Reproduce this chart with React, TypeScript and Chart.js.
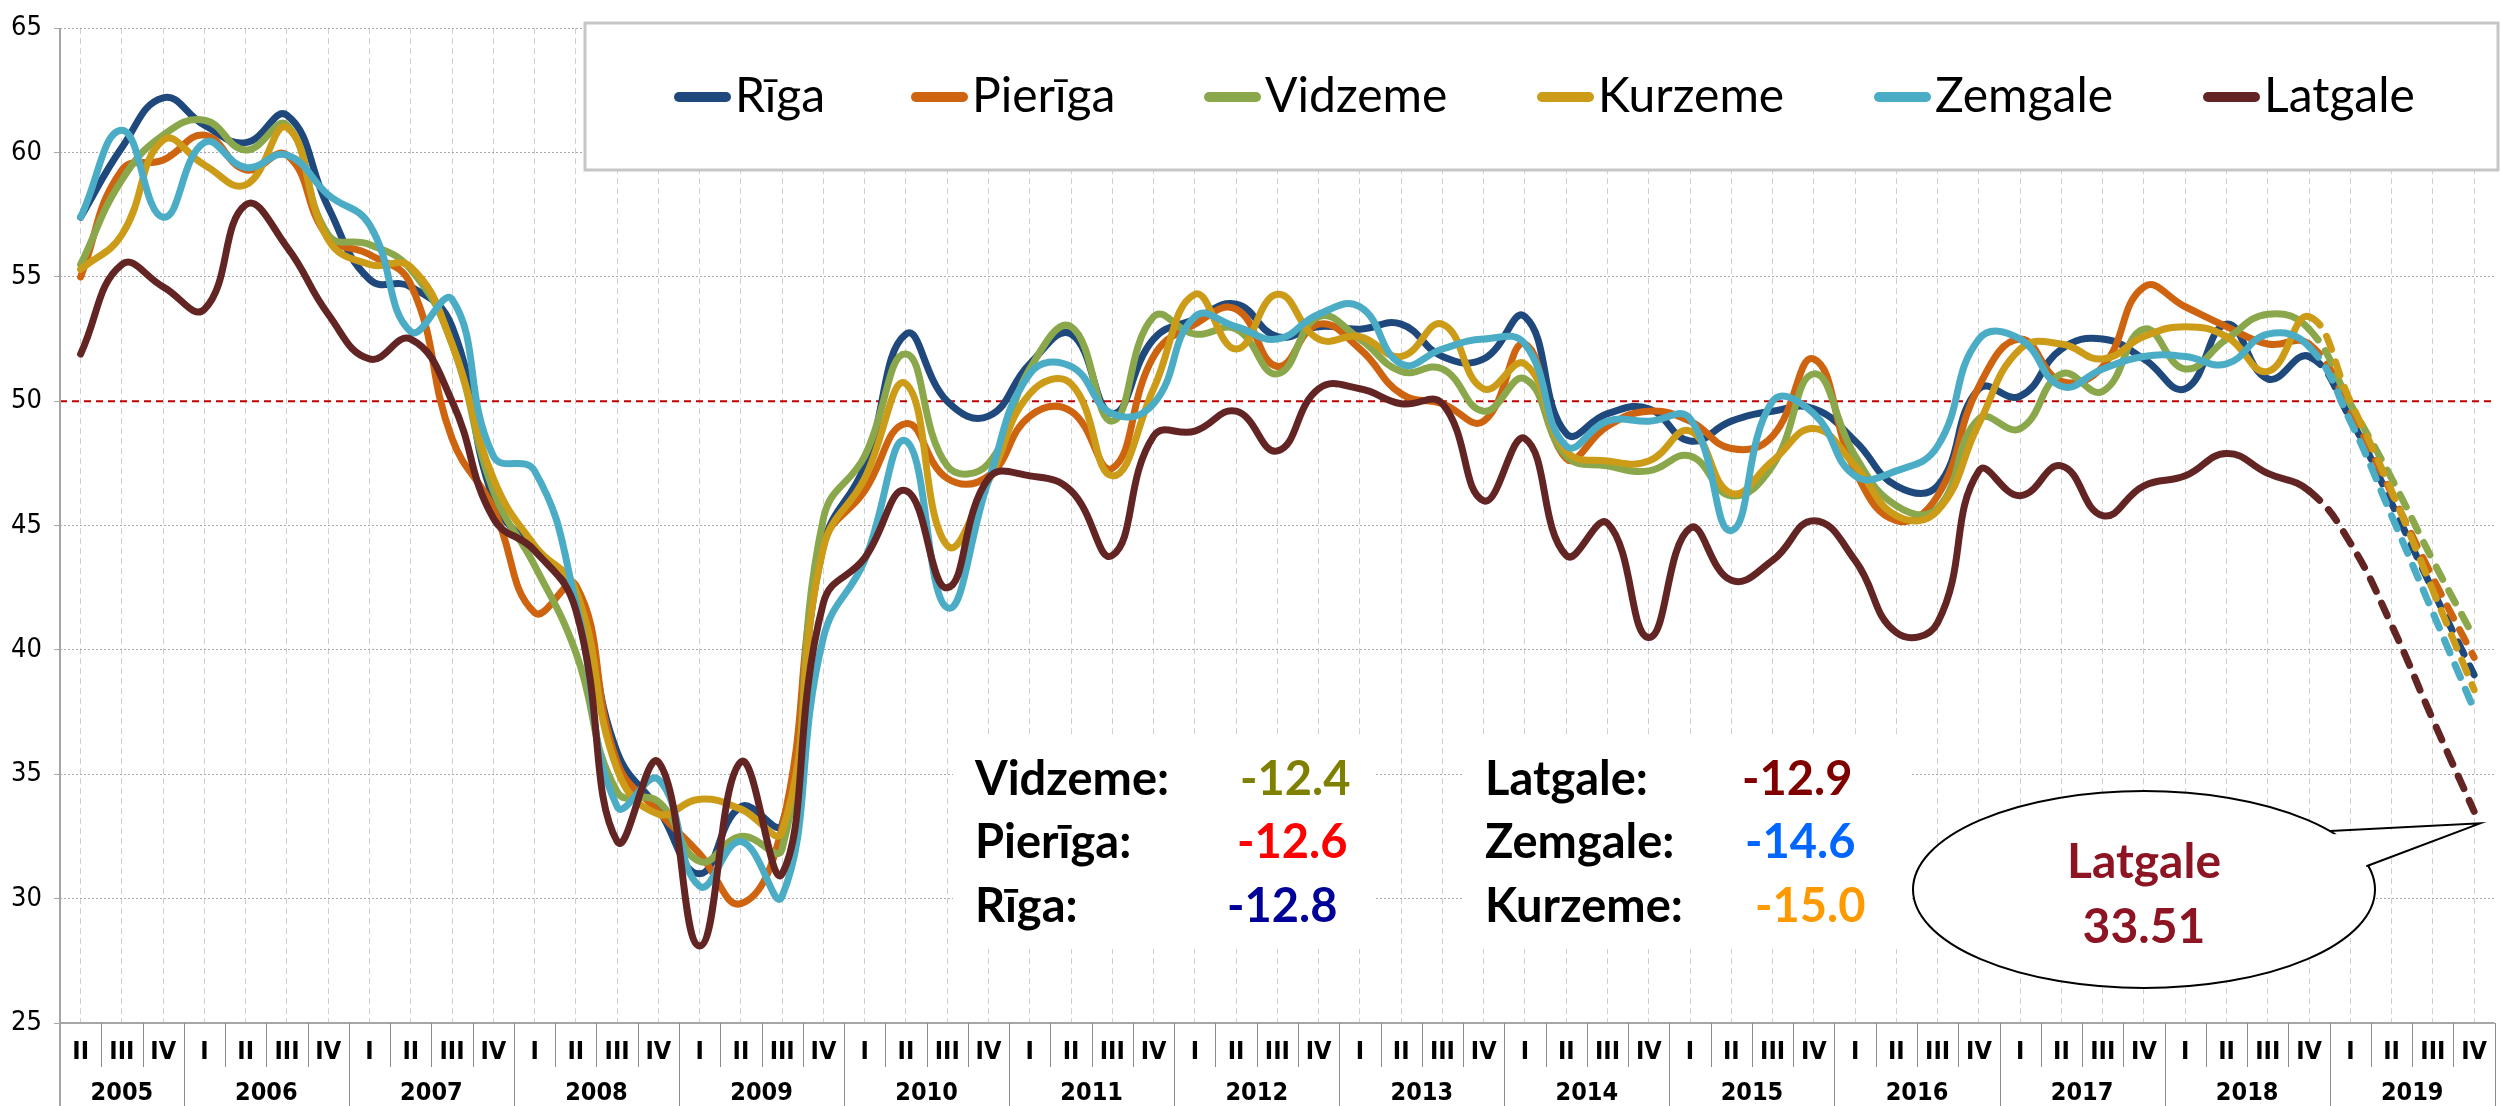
import React, { useEffect, useRef } from "react";
import { Chart, registerables } from "chart.js";

Chart.register(...registerables);

// ---------- DATA ----------
const quarterLabels = [
  "II", "III", "IV",
  "I", "II", "III", "IV", "I", "II", "III", "IV", "I", "II", "III", "IV",
  "I", "II", "III", "IV", "I", "II", "III", "IV", "I", "II", "III", "IV",
  "I", "II", "III", "IV", "I", "II", "III", "IV", "I", "II", "III", "IV",
  "I", "II", "III", "IV", "I", "II", "III", "IV", "I", "II", "III", "IV",
  "I", "II", "III", "IV", "I", "II", "III", "IV",
];
const yearLabels = ["2005", "2006", "2007", "2008", "2009", "2010", "2011", "2012", "2013", "2014", "2015", "2016", "2017", "2018", "2019"];
const yTicks = [25, 30, 35, 40, 45, 50, 55, 60, 65];

const seriesNames = ["Rīga", "Pierīga", "Vidzeme", "Kurzeme", "Zemgale", "Latgale"];

const riga = [57.4, 60.2, 62.2, 61.1, 60.4, 61.5, 57.8, 54.9, 54.6, 53.0, 46.1, 44.0, 42.3, 35.9, 33.6, 31.0, 33.7, 33.0, 44.2, 47.4, 52.7, 50.0, 49.4, 51.5, 52.7, 49.5, 52.5, 53.3, 53.9, 52.6, 53.0, 52.9, 53.1, 51.8, 51.7, 53.4, 48.7, 49.5, 49.7, 48.4, 49.2, 49.6, 49.7, 48.4, 46.6, 46.6, 50.5, 50.2, 52.1, 52.5, 51.7, 50.5, 53.1, 50.9, 51.8, 49.3, 45.9, 42.4, 39.0];
const pieriga = [55.0, 59.3, 59.7, 60.7, 59.3, 59.9, 56.6, 55.9, 54.7, 48.5, 45.7, 41.5, 42.6, 35.5, 33.5, 31.8, 29.8, 32.9, 44.2, 46.4, 49.1, 46.9, 47.0, 49.4, 49.6, 47.3, 51.8, 53.1, 53.7, 51.4, 53.1, 52.1, 50.3, 49.9, 49.2, 52.3, 47.7, 49.0, 49.6, 49.2, 48.1, 48.6, 51.7, 47.2, 45.2, 46.2, 50.6, 52.5, 50.8, 51.4, 54.6, 53.8, 53.0, 52.3, 52.3, 49.6, 46.3, 42.9, 39.7];
const vidzeme = [55.5, 58.9, 60.7, 61.3, 60.1, 61.1, 56.7, 56.3, 55.3, 52.3, 46.4, 43.4, 39.9, 34.3, 33.9, 31.5, 32.5, 32.0, 45.3, 47.8, 51.9, 47.4, 47.5, 51.3, 53.0, 49.2, 53.4, 52.7, 52.9, 51.1, 53.4, 52.5, 51.2, 51.3, 49.6, 50.9, 47.8, 47.4, 47.2, 47.8, 46.2, 47.4, 51.1, 47.8, 45.8, 45.7, 49.3, 48.9, 51.1, 50.4, 52.9, 51.3, 52.5, 53.5, 52.9, 49.9, 46.9, 43.6, 40.5];
const kurzeme = [55.3, 56.7, 60.5, 59.5, 58.7, 61.0, 56.5, 55.5, 55.4, 52.3, 46.9, 44.2, 42.4, 35.2, 33.4, 34.0, 33.6, 32.7, 44.1, 46.9, 50.7, 44.2, 46.8, 50.3, 50.7, 47.0, 50.5, 54.3, 52.1, 54.3, 52.5, 52.6, 51.8, 53.1, 50.5, 51.5, 48.0, 47.6, 47.6, 48.8, 46.3, 47.6, 48.9, 47.4, 45.4, 45.6, 49.1, 52.1, 52.3, 51.7, 52.6, 53.0, 52.6, 51.2, 53.4, 50.0, 46.4, 42.4, 38.4];
const zemgale = [57.4, 60.9, 57.4, 60.4, 59.4, 59.9, 58.3, 57.1, 52.8, 54.1, 47.8, 47.2, 41.9, 33.7, 34.8, 30.5, 32.3, 30.1, 40.5, 43.6, 48.4, 41.7, 46.8, 51.1, 51.4, 49.5, 49.9, 53.4, 53.0, 52.5, 53.5, 53.8, 51.5, 52.1, 52.5, 52.3, 48.2, 49.2, 49.2, 49.3, 44.8, 50.0, 49.5, 47.0, 47.2, 48.2, 52.5, 52.5, 50.6, 51.3, 51.8, 51.8, 51.5, 52.7, 52.2, 49.2, 45.4, 41.5, 37.6];
const latgale = [51.9, 55.5, 54.6, 53.7, 57.9, 56.2, 53.5, 51.7, 52.5, 50.0, 45.3, 44.0, 41.6, 32.3, 35.5, 28.1, 35.5, 31.0, 41.9, 43.7, 46.4, 42.5, 46.9, 47.0, 46.4, 43.8, 48.6, 48.8, 49.6, 48.0, 50.5, 50.5, 49.9, 49.9, 46.0, 48.5, 43.8, 45.1, 40.5, 44.9, 42.8, 43.6, 45.2, 43.6, 40.7, 41.1, 47.2, 46.2, 47.4, 45.4, 46.6, 47.0, 47.9, 47.1, 46.4, 44.3, 41.0, 37.2, 33.51];

const seriesColors = ["#1F497D", "#CF6410", "#8AA84B", "#CC9C18", "#4BACC6", "#632523"];

const forecastStartIndex = 54; // 2018 IV -> dashed afterwards

const changeLeftNames = ["Vidzeme:", "Pierīga:", "Rīga:"];
const changeLeftValues = ["-12.4", "-12.6", "-12.8"];
const changeLeftColors = ["#808000", "#FF0000", "#000099"];
const changeRightNames = ["Latgale:", "Zemgale:", "Kurzeme:"];
const changeRightValues = ["-12.9", "-14.6", "-15.0"];
const changeRightColors = ["#800000", "#0066FF", "#FF9900"];

const calloutTitle = "Latgale";
const calloutValue = "33.51";

// ---------- STYLE ----------
const NARROW = '"Liberation Sans Narrow", "Arial Narrow", "DejaVu Sans Condensed", sans-serif';
const LATO = 'Lato, "Open Sans", sans-serif';
const W = 2501;
const H = 1106;

const decorPlugin = {
  id: "decor",
  beforeDatasetsDraw(chart: any) {
    const { ctx, chartArea, scales } = chart;
    const y = scales.y;
    ctx.save();
    const y50 = y.getPixelForValue(50);
    ctx.strokeStyle = "#C00000";
    ctx.lineWidth = 2;
    ctx.setLineDash([7, 5]);
    ctx.beginPath();
    ctx.moveTo(chartArea.left, y50);
    ctx.lineTo(chartArea.right, y50);
    ctx.stroke();
    ctx.setLineDash([]);
    ctx.fillStyle = "#FFFFFF";
    ctx.fillRect(953, 735, 421, 214);
    ctx.fillRect(1463, 735, 449, 214);
    ctx.restore();
  },
  afterDatasetsDraw(chart: any) {
    const { ctx, scales } = chart;
    const x = scales.x;
    const y = scales.y;
    ctx.save();

    // ----- legend -----
    ctx.fillStyle = "#FFFFFF";
    ctx.fillRect(585, 23, 1913, 147);
    ctx.strokeStyle = "#C6C6C6";
    ctx.lineWidth = 3;
    ctx.strokeRect(585, 23, 1913, 147);
    const legendX = [675, 912, 1205, 1538, 1875, 2204];
    ctx.font = `48px ${LATO}`;
    ctx.textBaseline = "alphabetic";
    ctx.textAlign = "left";
    chart.data.datasets.forEach((ds: any, i: number) => {
      const lx = legendX[i];
      ctx.strokeStyle = ds.borderColor;
      ctx.lineWidth = 10;
      ctx.lineCap = "round";
      ctx.beginPath();
      ctx.moveTo(lx + 4, 97);
      ctx.lineTo(lx + 51, 97);
      ctx.stroke();
      ctx.fillStyle = "#000000";
      ctx.fillText(ds.label, lx + 60, 112);
    });

    // ----- change annotations -----
    ctx.font = `bold 47px ${LATO}`;
    const baselines = [795, 858, 922];
    const leftValX = [1240, 1237, 1227];
    const rightValX = [1742, 1745, 1755];
    for (let r = 0; r < 3; r++) {
      ctx.fillStyle = "#000000";
      ctx.fillText(changeLeftNames[r], 975, baselines[r]);
      ctx.fillText(changeRightNames[r], 1485, baselines[r]);
      ctx.fillStyle = changeLeftColors[r];
      ctx.fillText(changeLeftValues[r], leftValX[r], baselines[r]);
      ctx.fillStyle = changeRightColors[r];
      ctx.fillText(changeRightValues[r], rightValX[r], baselines[r]);
    }

    // ----- callout -----
    const cx = 2144, cy = 889.5, rx = 231, ry = 98.5;
    const lastIdx = latgale.length - 1;
    const tipX = x.getPixelForValue(lastIdx) + 6;
    const tipY = y.getPixelForValue(latgale[lastIdx]) + 12;
    const b1 = [2330, 831];
    const b2 = [2367, 866];
    ctx.fillStyle = "#FFFFFF";
    ctx.strokeStyle = "#000000";
    ctx.lineWidth = 2;
    ctx.beginPath();
    ctx.ellipse(cx, cy, rx, ry, 0, 0, Math.PI * 2);
    ctx.fill();
    ctx.stroke();
    ctx.beginPath();
    ctx.moveTo(b1[0] - 6, b1[1] + 4);
    ctx.lineTo(tipX, tipY);
    ctx.lineTo(b2[0] - 6, b2[1] + 2);
    ctx.closePath();
    ctx.fill();
    ctx.beginPath();
    ctx.moveTo(b1[0], b1[1]);
    ctx.lineTo(tipX, tipY);
    ctx.lineTo(b2[0], b2[1]);
    ctx.stroke();

    ctx.fillStyle = "#8C1423";
    ctx.font = `bold 48px ${LATO}`;
    ctx.textAlign = "center";
    ctx.fillText(calloutTitle, cx, 878);
    ctx.fillText(calloutValue, cx, 943);
    ctx.restore();
  },
  afterDraw(chart: any) {
    const { ctx, chartArea, scales } = chart;
    const x = scales.x;
    const n = quarterLabels.length;
    const step = x.getPixelForValue(1) - x.getPixelForValue(0);
    const boundary = (k: number) => x.getPixelForValue(k) - step / 2;
    const bottom = chartArea.bottom;
    ctx.save();
    ctx.strokeStyle = "#A6A6A6";
    ctx.lineWidth = 2;
    ctx.beginPath();
    ctx.moveTo(chartArea.left, chartArea.top);
    ctx.lineTo(chartArea.left, H);
    ctx.moveTo(chartArea.left, bottom);
    ctx.lineTo(chartArea.right, bottom);
    ctx.stroke();
    ctx.strokeStyle = "#8C8C8C";
    ctx.lineWidth = 1;
    ctx.beginPath();
    for (let k = 1; k <= n; k++) {
      const px = Math.round(boundary(k)) + 0.5;
      const isYear = (k - 3) % 4 === 0 || k === n;
      ctx.moveTo(px, bottom);
      ctx.lineTo(px, isYear ? H : bottom + 44);
    }
    ctx.stroke();
    ctx.fillStyle = "#000000";
    ctx.font = `bold 25px ${NARROW}`;
    ctx.textAlign = "center";
    ctx.textBaseline = "middle";
    yearLabels.forEach((yl, j) => {
      const first = j === 0 ? 0 : 3 + (j - 1) * 4;
      const last = j === 0 ? 2 : first + 3;
      const cxp = (x.getPixelForValue(first) + x.getPixelForValue(last)) / 2;
      ctx.fillText(yl, cxp, 1093);
    });
    ctx.restore();
  },
};

export default function App() {
  const canvasRef = useRef<HTMLCanvasElement | null>(null);

  useEffect(() => {
    if (!canvasRef.current) return;
    const allSeries = [riga, pieriga, vidzeme, kurzeme, zemgale, latgale];
    const datasets = allSeries.map((values, i) => ({
      label: seriesNames[i],
      data: values,
      borderColor: seriesColors[i],
      backgroundColor: seriesColors[i],
      borderWidth: 7,
      pointRadius: 0,
      pointHoverRadius: 0,
      tension: 0.45,
      fill: false,
      borderCapStyle: "round" as const,
      borderJoinStyle: "round" as const,
      order: allSeries.length - i,
      segment: {
        borderDash: (c: any) => (c.p0DataIndex >= forecastStartIndex ? [14, 13] : undefined),
      },
    }));

    const chart = new Chart(canvasRef.current, {
      type: "line",
      data: { labels: quarterLabels, datasets },
      options: {
        responsive: false,
        animation: false,
        devicePixelRatio: 1,
        layout: { padding: { top: 20, right: 1, left: 0, bottom: 0 } },
        plugins: {
          legend: { display: false },
          tooltip: { enabled: false },
        },
        scales: {
          x: {
            type: "category",
            offset: true,
            grid: {
              offset: false,
              color: "#CFCFCF",
              lineWidth: 1,
              drawTicks: false,
            },
            border: { display: false, dash: [6, 4] },
            ticks: {
              autoSkip: false,
              maxRotation: 0,
              minRotation: 0,
              padding: 14,
              color: "#000000",
              font: { family: NARROW, size: 25, weight: "bold" },
            },
            afterFit: (s: any) => {
              s.height = 83;
            },
          },
          y: {
            min: 25,
            max: 65,
            afterBuildTicks: (s: any) => {
              s.ticks = yTicks.map((v) => ({ value: v }));
            },
            grid: {
              color: (c: any) => (c.tick && c.tick.value === 50 ? "rgba(0,0,0,0)" : "#A8A8A8"),
              lineWidth: 1,
              drawTicks: true,
              tickLength: 6,
              tickColor: "#A8A8A8",
            },
            border: { display: false, dash: [2, 2] },
            ticks: {
              padding: 12,
              color: "#000000",
              font: { family: NARROW, size: 27 },
            },
            afterFit: (s: any) => {
              s.width = 60;
            },
          },
        },
      },
      plugins: [decorPlugin],
    });
    return () => chart.destroy();
  }, []);

  return (
    <div style={{ position: "fixed", left: 0, top: 0, width: W, height: H, background: "#FFFFFF" }}>
      <canvas ref={canvasRef} width={W} height={H} style={{ display: "block" }} />
    </div>
  );
}
